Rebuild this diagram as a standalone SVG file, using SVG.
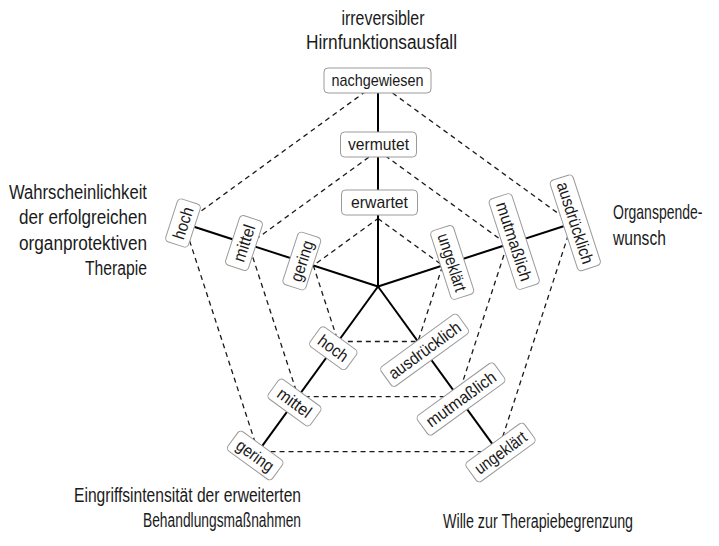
<svg xmlns="http://www.w3.org/2000/svg" width="719" height="546" viewBox="0 0 719 546">
<style>
  text { font-family: "Liberation Sans", Arial, sans-serif; fill: #1a1a1a; }
  .lbl rect { fill: #ffffff; stroke: #9a9a9a; stroke-width: 1; }
  .lbl text { font-size: 17px; text-anchor: middle; }
  .ttl { font-size: 20px; }
  .axis { stroke: #000; stroke-width: 2; fill: none; }
  .ring { stroke: #1a1a1a; stroke-width: 1.3; stroke-dasharray: 5 4; fill: none; }
</style>
<rect width="719" height="546" fill="#ffffff"/>
<g id="connectors">
  <path class="ring" d="M378,218.5 L442.67,265.49 L417.97,341.51 L338.03,341.51 L313.33,265.49 Z"/>
  <path class="ring" d="M378,150.5 L507.34,244.47 L457.94,396.53 L298.06,396.53 L248.66,244.47 Z"/>
  <path class="ring" d="M378,82.5 L572.02,223.46 L497.91,451.54 L258.09,451.54 L183.98,223.46 Z"/>
  <line class="axis" x1="378" y1="286.5" x2="378" y2="82.5"/>
  <line class="axis" x1="378" y1="286.5" x2="572.02" y2="223.46"/>
  <line class="axis" x1="378" y1="286.5" x2="497.91" y2="451.54"/>
  <line class="axis" x1="378" y1="286.5" x2="258.09" y2="451.54"/>
  <line class="axis" x1="378" y1="286.5" x2="183.98" y2="223.46"/>
</g>
<g id="axis-titles">
  <text class="ttl" x="383" y="25" text-anchor="middle" textLength="83" lengthAdjust="spacingAndGlyphs">irreversibler</text>
  <text class="ttl" x="381.5" y="49" text-anchor="middle" textLength="151" lengthAdjust="spacingAndGlyphs">Hirnfunktionsausfall</text>
  <text class="ttl" x="147" y="198.5" text-anchor="end" textLength="138" lengthAdjust="spacingAndGlyphs">Wahrscheinlichkeit</text>
  <text class="ttl" x="147" y="224" text-anchor="end" textLength="128" lengthAdjust="spacingAndGlyphs">der erfolgreichen</text>
  <text class="ttl" x="147" y="249.5" text-anchor="end" textLength="128" lengthAdjust="spacingAndGlyphs">organprotektiven</text>
  <text class="ttl" x="147" y="275" text-anchor="end" textLength="62" lengthAdjust="spacingAndGlyphs">Therapie</text>
  <text class="ttl" transform="translate(613,219) scale(0.70,1)">Organspende-</text>
  <text class="ttl" transform="translate(613,244.5) scale(0.78,1)">wunsch</text>
  <text class="ttl" x="301" y="502" text-anchor="end" textLength="227" lengthAdjust="spacingAndGlyphs">Eingriffsintensität der erweiterten</text>
  <text class="ttl" x="301" y="527" text-anchor="end" textLength="158" lengthAdjust="spacingAndGlyphs">Behandlungsmaßnahmen</text>
  <text class="ttl" x="443" y="528" textLength="190" lengthAdjust="spacingAndGlyphs">Wille zur Therapiebegrenzung</text>
</g>
<g id="top-erwartet" class="lbl" transform="translate(379.5,202.5)"><rect x="-38" y="-12.5" width="76" height="25" rx="4"/><text dy="0.35em" textLength="57" lengthAdjust="spacingAndGlyphs">erwartet</text></g>
<g id="top-vermutet" class="lbl" transform="translate(378.5,144.5)"><rect x="-38" y="-12.5" width="76" height="25" rx="4"/><text dy="0.35em" textLength="61" lengthAdjust="spacingAndGlyphs">vermutet</text></g>
<g id="top-nachgewiesen" class="lbl" transform="translate(377.5,80.5)"><rect x="-53.5" y="-12.5" width="107" height="25" rx="4"/><text dy="0.35em" textLength="92" lengthAdjust="spacingAndGlyphs">nachgewiesen</text></g>
<g id="right-ungeklaert" class="lbl" transform="translate(452.2,262.4) rotate(72)"><rect x="-36" y="-12" width="72" height="24" rx="4"/><text dy="0.35em" textLength="60" lengthAdjust="spacingAndGlyphs">ungeklärt</text></g>
<g id="right-mutmasslich" class="lbl" transform="translate(514.2,241.5) rotate(72)"><rect x="-47.5" y="-12" width="95" height="24" rx="4"/><text dy="0.35em" textLength="82" lengthAdjust="spacingAndGlyphs">mutmaßlich</text></g>
<g id="right-ausdruecklich" class="lbl" transform="translate(575.3,222.8) rotate(72)"><rect x="-47.5" y="-12" width="95" height="24" rx="4"/><text dy="0.35em" textLength="85" lengthAdjust="spacingAndGlyphs">ausdrücklich</text></g>
<g id="br-ausdruecklich" class="lbl" transform="translate(424.6,350.2) rotate(-36)"><rect x="-47.5" y="-12" width="95" height="24" rx="4"/><text dy="0.35em" textLength="85" lengthAdjust="spacingAndGlyphs">ausdrücklich</text></g>
<g id="br-mutmasslich" class="lbl" transform="translate(461,399) rotate(-36)"><rect x="-47.5" y="-12" width="95" height="24" rx="4"/><text dy="0.35em" textLength="82" lengthAdjust="spacingAndGlyphs">mutmaßlich</text></g>
<g id="br-ungeklaert" class="lbl" transform="translate(500.5,452.5) rotate(-36)"><rect x="-36" y="-12" width="72" height="24" rx="4"/><text dy="0.35em" textLength="60" lengthAdjust="spacingAndGlyphs">ungeklärt</text></g>
<g id="bl-hoch" class="lbl" transform="translate(333.3,348.2) rotate(36)"><rect x="-22.5" y="-12" width="45" height="24" rx="4"/><text dy="0.35em" textLength="33" lengthAdjust="spacingAndGlyphs">hoch</text></g>
<g id="bl-mittel" class="lbl" transform="translate(294.5,402.5) rotate(36)"><rect x="-26" y="-12" width="52" height="24" rx="4"/><text dy="0.35em" textLength="38" lengthAdjust="spacingAndGlyphs">mittel</text></g>
<g id="bl-gering" class="lbl" transform="translate(255.2,455.5) rotate(36)"><rect x="-27.5" y="-12" width="55" height="24" rx="4"/><text dy="0.35em" textLength="42" lengthAdjust="spacingAndGlyphs">gering</text></g>
<g id="left-gering" class="lbl" transform="translate(301.8,261) rotate(-72)"><rect x="-27.5" y="-12" width="55" height="24" rx="4"/><text dy="0.35em" textLength="42" lengthAdjust="spacingAndGlyphs">gering</text></g>
<g id="left-mittel" class="lbl" transform="translate(244,243) rotate(-72)"><rect x="-26" y="-12" width="52" height="24" rx="4"/><text dy="0.35em" textLength="38" lengthAdjust="spacingAndGlyphs">mittel</text></g>
<g id="left-hoch" class="lbl" transform="translate(183,223) rotate(-72)"><rect x="-22.5" y="-12" width="45" height="24" rx="4"/><text dy="0.35em" textLength="33" lengthAdjust="spacingAndGlyphs">hoch</text></g>
</svg>
